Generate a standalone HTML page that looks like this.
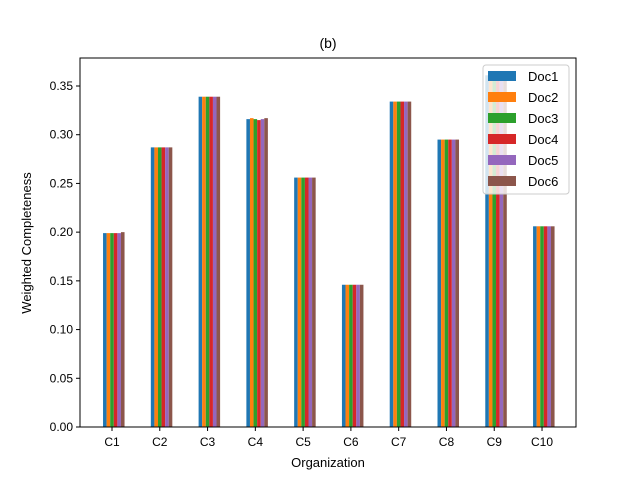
<!DOCTYPE html>
<html><head><meta charset="utf-8"><style>body{margin:0;background:#fff}svg{font-family:"Liberation Sans","DejaVu Sans",sans-serif}</style></head>
<body>
<svg id="chart" width="640" height="480" viewBox="0 0 640 480">
<rect width="640" height="480" fill="#fff"/>
<text x="328" y="48" text-anchor="middle" font-size="14">(b)</text>
<g id="bars"></g>
<rect x="80" y="58" width="496" height="369" fill="none" stroke="#000" stroke-width="1"/>
<g id="axes" font-size="12"></g>
<text x="328" y="467" text-anchor="middle" font-size="13">Organization</text>
<text transform="translate(31,243) rotate(-90)" text-anchor="middle" font-size="13">Weighted Completeness</text>
<g id="legend"></g>
</svg>
<script>
const categories=["C1","C2","C3","C4","C5","C6","C7","C8","C9","C10"];
const seriesNames=["Doc1","Doc2","Doc3","Doc4","Doc5","Doc6"];
const doc1=[0.199,0.287,0.339,0.316,0.256,0.146,0.334,0.295,0.361,0.206];
const doc2=[0.199,0.287,0.339,0.317,0.256,0.146,0.334,0.295,0.361,0.206];
const doc3=[0.199,0.287,0.339,0.316,0.256,0.146,0.334,0.295,0.361,0.206];
const doc4=[0.199,0.287,0.339,0.315,0.256,0.146,0.334,0.295,0.361,0.206];
const doc5=[0.199,0.287,0.339,0.316,0.256,0.146,0.334,0.295,0.361,0.206];
const doc6=[0.200,0.287,0.339,0.317,0.256,0.146,0.334,0.295,0.361,0.206];
const yTicks=[0,0.05,0.10,0.15,0.20,0.25,0.30,0.35];
const series=[doc1,doc2,doc3,doc4,doc5,doc6];
const colors=["#1f77b4","#ff7f0e","#2ca02c","#d62728","#9467bd","#8c564b"];
const NS="http://www.w3.org/2000/svg";
const y=v=>427-v*974.3;
const x=i=>112+i*47.78;
const bw=0.075*47.78;
function mk(t,a,p){const e=document.createElementNS(NS,t);for(const k in a)e.setAttribute(k,a[k]);p.appendChild(e);return e;}
const gb=document.getElementById('bars');
series.forEach((s,si)=>s.forEach((v,i)=>{
 const r=mk('rect',{x:x(i)+(si-2.5)*bw,y:y(v),width:bw,height:427-y(v),fill:colors[si]},gb);
 
 
}));
const ga=document.getElementById('axes');
yTicks.forEach(t=>{
 const l=mk('line',{x1:76,x2:80,y1:y(t),y2:y(t),stroke:'#000'},ga);
 
 
 const tx=mk('text',{x:73,y:y(t)+4,'text-anchor':'end'},ga);tx.textContent=t.toFixed(2);
 
 
});
categories.forEach((c,i)=>{
 const l=mk('line',{x1:x(i),x2:x(i),y1:427,y2:431,stroke:'#000'},ga);
 
 
 const tx=mk('text',{x:x(i),y:446,'text-anchor':'middle'},ga);tx.textContent=c;
 
 
});
const gl=document.getElementById('legend');
mk('rect',{x:483,y:65,width:86,height:129,rx:3,fill:'#fff','fill-opacity':0.8,stroke:'#ccc'},gl);
seriesNames.forEach((n,i)=>{
 const cy=76+i*21;
 const p=mk('rect',{x:488,y:cy-5,width:28,height:10,fill:colors[i]},gl);
 
 
 const t=mk('text',{x:528,y:cy+5,'font-size':13},gl);t.textContent=n;
 
 
});
</script>
</body></html>
